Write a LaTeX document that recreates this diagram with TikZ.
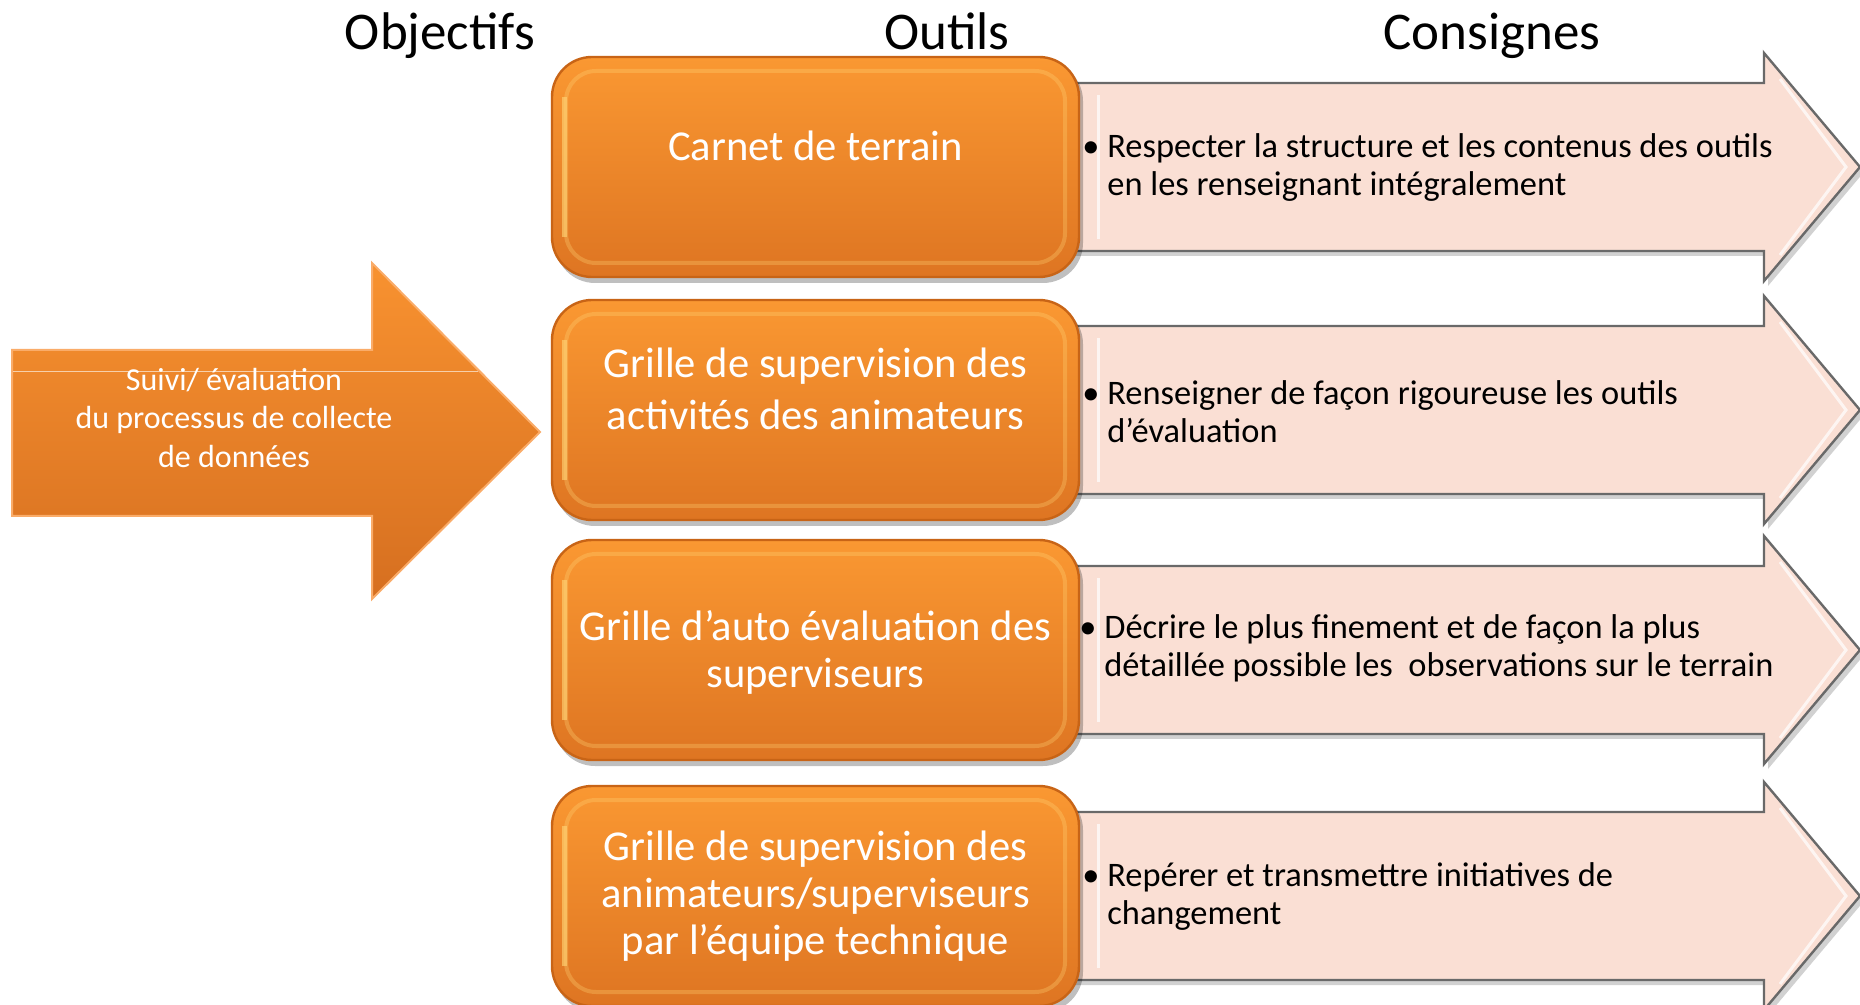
\documentclass[tikz,border=0pt]{standalone}
\usepackage{fontspec}
\setmainfont{Carlito}
\definecolor{orTop}{RGB}{250,152,50}
\definecolor{orBot}{RGB}{222,117,34}
\definecolor{orEdge}{RGB}{200,100,22}
\definecolor{orHi}{RGB}{255,214,120}
\definecolor{arTop}{RGB}{248,146,48}
\definecolor{arBot}{RGB}{214,111,32}
\definecolor{arEdge}{RGB}{250,172,105}
\definecolor{pinkF}{RGB}{250,223,212}
\definecolor{pinkE}{RGB}{105,105,105}
\tikzset{
  header/.style={font=\fontsize{26.5}{30}\selectfont, text=black, anchor=base, inner sep=0pt},
  boxtext/.style={font=\fontsize{21.3}{25}\selectfont, text=white, align=center, inner sep=0pt},
  cons/.style={font=\fontsize{17.2}{19}\selectfont, text=black, align=left, anchor=west, inner sep=0pt},
  objtext/.style={font=\fontsize{16}{19.3}\selectfont, text=white, align=center, inner sep=0pt},
}
\begin{document}
\begin{tikzpicture}[x=0.5pt,y=-0.5pt]
\useasboundingbox (0,0) rectangle (1860,1005);
\fill[white] (0,0) rectangle (1860,1005);

% headers
\node[header] (hobj) at (440,50) {Objectifs};
\node[header] (hout) at (947,50) {Outils};
\node[header] (hcon) at (1492,50) {Consignes};

% left objective arrow
\shade[top color=arTop, bottom color=arBot, draw=arEdge, line width=1pt]
  (12,350) -- (372,350) -- (372,263) -- (540,432) -- (372,599) -- (372,516) -- (12,516) -- cycle;
\draw[white, opacity=0.6, line width=0.5pt] (13,372) -- (478,372);
\node[objtext] (obj) at (234,418) {Suivi/ évaluation\\du processus de collecte\\de données};

% pink consigne arrows
\foreach \c in {167,410,650,896}{
  \fill[black, opacity=0.18]
    (1060,{\c-84+5}) -- (1768,{\c-84+5}) -- (1768,{\c-114+5}) -- (1864,{\c+5}) -- (1768,{\c+114+5}) -- (1768,{\c+84+5}) -- (1060,{\c+84+5}) -- cycle;
  \filldraw[fill=pinkF, draw=pinkE, line width=1.2pt]
    (1060,{\c-84}) -- (1764,{\c-84}) -- (1764,{\c-114}) -- (1860,{\c}) -- (1764,{\c+114}) -- (1764,{\c+84}) -- (1060,{\c+84}) -- cycle;
  \draw[white, opacity=0.7, line width=1.5pt]
    (1098,{\c-72}) -- (1098,{\c+72});
  \draw[white, opacity=0.7, line width=1.5pt]
    (1780,{\c-88}) -- (1846,{\c}) -- (1780,{\c+88});
}

% orange tool boxes
\foreach \c in {167,410,650,896}{
  \fill[black, opacity=0.25, rounded corners=20pt] (555,{\c-106}) rectangle (1083,{\c+116});
  \shade[top color=orTop, bottom color=orBot, rounded corners=20pt] (552,{\c-110}) rectangle (1079,{\c+110});
  \draw[orEdge, line width=1.2pt, rounded corners=20pt] (552,{\c-110}) rectangle (1079,{\c+110});
  \draw[orHi, opacity=0.3, line width=2pt, rounded corners=15pt] (566,{\c-96}) rectangle (1065,{\c+96});
  \draw[orHi, opacity=0.6, line width=2.5pt] (564,{\c-70}) -- (564,{\c+70});
}

\node[boxtext] (t1) at (815.5,146) {Carnet de terrain};
\node[boxtext, font=\fontsize{21.3}{26}\selectfont] (t2) at (815.5,389) {Grille de supervision des\\activités des animateurs};
\node[boxtext, font=\fontsize{21.3}{23.5}\selectfont] (t3) at (815.5,652) {Grille d’auto évaluation des\\superviseurs};
\node[boxtext, font=\fontsize{21.3}{23.5}\selectfont] (t4) at (815.5,896) {Grille de supervision des\\animateurs/superviseurs\\par l’équipe technique};

\node[cons] (c1) at (1107,168) {\llap{•\hspace{4pt}}Respecter la structure et les contenus des outils\\en les renseignant intégralement};
\node[cons] (c2) at (1107,412) {\llap{•\hspace{4pt}}Renseigner de façon rigoureuse les outils\\d’évaluation};
\node[cons] (c3) at (1104,648) {\llap{•\hspace{4pt}}Décrire le plus finement et de façon la plus\\détaillée possible les\ \ observations sur le terrain};
\node[cons] (c4) at (1107,897) {\llap{•\hspace{4pt}}Repérer et transmettre initiatives de\\changement};
\end{tikzpicture}
\end{document}
